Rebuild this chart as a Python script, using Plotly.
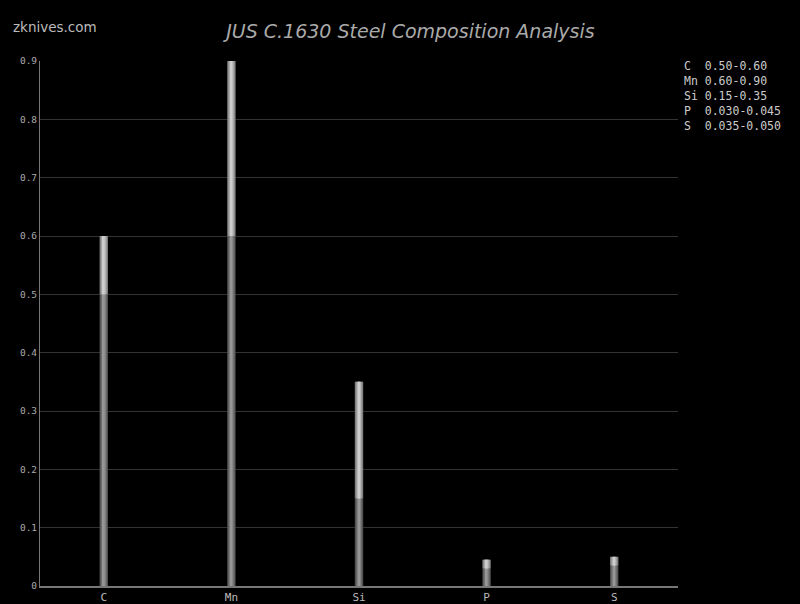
import plotly.graph_objects as go

elements = ["C", "Mn", "Si", "P", "S"]
min_vals = [0.50, 0.60, 0.15, 0.030, 0.035]
max_vals = [0.60, 0.90, 0.35, 0.045, 0.050]
range_labels = ["0.50-0.60", "0.60-0.90", "0.15-0.35", "0.030-0.045", "0.035-0.050"]

fig = go.Figure()

ranges = [mx - mn for mn, mx in zip(min_vals, max_vals)]
# layered widths to simulate cylindrical gradient
low_layers = [(0.066, "#4e4e4e"), (0.05, "#686868"), (0.032, "#808080"), (0.014, "#969696")]
high_layers = [(0.066, "#7a7a7a"), (0.05, "#999999"), (0.032, "#b6b6b6"), (0.014, "#cdcdcd")]

for w, c in low_layers:
    fig.add_trace(go.Bar(x=elements, y=min_vals, base=[0] * 5, width=w,
                         marker=dict(color=c, line=dict(width=0)),
                         showlegend=False, hoverinfo="skip"))
for w, c in high_layers:
    fig.add_trace(go.Bar(x=elements, y=ranges, base=min_vals, width=w,
                         marker=dict(color=c, line=dict(width=0)),
                         showlegend=False, hoverinfo="skip"))

legend_text = "<br>".join(f"{e:<2} {r}".replace(" ", "&nbsp;") for e, r in zip(elements, range_labels))

fig.update_layout(
    width=800, height=604,
    paper_bgcolor="#000000", plot_bgcolor="#000000",
    barmode="overlay",
    margin=dict(l=40, r=122, t=61, b=18),
    title=dict(text="<i>JUS C.1630 Steel Composition Analysis</i>",
               x=0.513, xanchor="center", y=0.948, yanchor="middle",
               font=dict(family="DejaVu Sans", size=19, color="#aaaaaa")),
    xaxis=dict(showgrid=False, showline=True, linecolor="#777777", linewidth=2,
               ticks="", automargin=False,
               tickfont=dict(family="DejaVu Sans Mono", size=11, color="#bbbbbb"),
               zeroline=False),
    yaxis=dict(range=[0, 0.9], dtick=0.1, showgrid=True, gridcolor="#333333", gridwidth=1,
               showline=True, linecolor="#777777", linewidth=1, ticks="", automargin=False,
               tickfont=dict(family="DejaVu Sans Mono", size=9.5, color="#aaaaaa"),
               zeroline=False, tickformat="~g"),
    annotations=[
        dict(text="zknives.com", xref="paper", yref="paper", x=-0.045, y=1.065,
             xanchor="left", yanchor="middle", showarrow=False,
             font=dict(family="DejaVu Sans", size=13.5, color="#bbbbbb")),
        dict(text=legend_text, xref="paper", yref="paper", x=1.006, y=1.007,
             xanchor="left", yanchor="top", align="left", showarrow=False,
             font=dict(family="DejaVu Sans Mono", size=11.5, color="#cccccc")),
    ],
)

fig.write_html("out.html", config={"displayModeBar": False},
               post_script="document.body.style.margin='0';document.body.style.background='#000';")
